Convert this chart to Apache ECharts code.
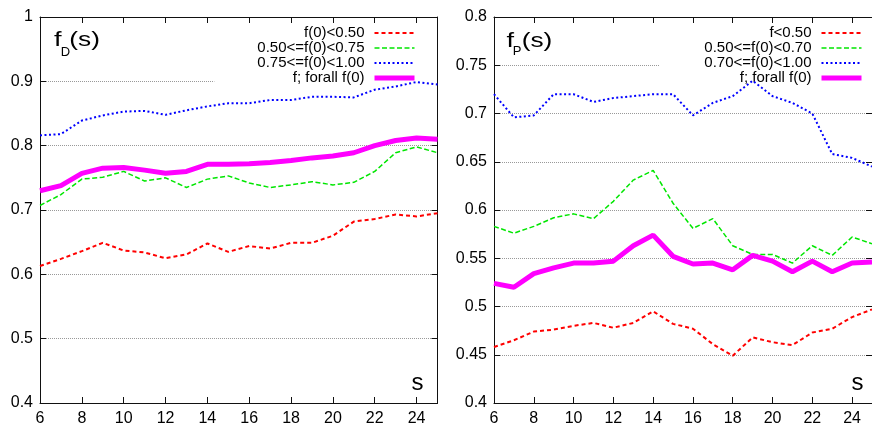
<!DOCTYPE html>
<html><head><meta charset="utf-8">
<script src="https://cdn.jsdelivr.net/npm/echarts@6/dist/echarts.min.js"></script>
<style>html,body{margin:0;padding:0;background:#fff}#c{width:872px;height:427px}</style>
</head><body><div id="c"></div>
<script>
// ---- data ----
const sValues = [6,7,8,9,10,11,12,13,14,15,16,17,18,19,20,21,22,23,24,25];
const xTickLabels = ['6','8','10','12','14','16','18','20','22','24'];

const leftNames = ['f(0)<0.50', '0.50<=f(0)<0.75', '0.75<=f(0)<1.00', 'f; forall f(0)'];
const D_low  = [0.613,0.624,0.636,0.649,0.637,0.634,0.625,0.631,0.648,0.635,0.644,0.640,0.649,0.649,0.660,0.682,0.686,0.693,0.690,0.695];
const D_mid  = [0.707,0.724,0.748,0.751,0.760,0.745,0.750,0.735,0.748,0.753,0.742,0.735,0.739,0.744,0.739,0.743,0.760,0.789,0.798,0.789];
const D_high = [0.816,0.818,0.839,0.847,0.853,0.854,0.848,0.855,0.861,0.866,0.866,0.871,0.871,0.876,0.876,0.875,0.887,0.892,0.899,0.895];
const D_all  = [0.730,0.738,0.757,0.765,0.766,0.762,0.757,0.760,0.771,0.771,0.772,0.774,0.777,0.781,0.784,0.789,0.800,0.808,0.812,0.810];

const rightNames = ['f<0.50', '0.50<=f(0)<0.70', '0.70<=f(0)<1.00', 'f; forall f(0)'];
const P_low  = [0.458,0.465,0.474,0.476,0.480,0.483,0.478,0.483,0.495,0.482,0.477,0.461,0.449,0.468,0.463,0.460,0.473,0.477,0.489,0.497];
const P_mid  = [0.583,0.576,0.583,0.592,0.596,0.591,0.609,0.631,0.641,0.607,0.581,0.591,0.563,0.554,0.554,0.545,0.563,0.553,0.572,0.565];
const P_high = [0.720,0.696,0.698,0.720,0.720,0.712,0.716,0.718,0.720,0.720,0.698,0.711,0.718,0.734,0.718,0.711,0.700,0.658,0.654,0.645];
const P_all  = [0.524,0.520,0.534,0.540,0.545,0.545,0.547,0.563,0.574,0.552,0.544,0.545,0.538,0.553,0.547,0.536,0.547,0.536,0.545,0.546];

// ---- styles ----
const FONT = 'Liberation Sans';
const AX = '#111';
const styles = [
  {color:'#ff0000', width:2,   type:[4,3]},
  {color:'#00e600', width:1.5, type:[5,2.5]},
  {color:'#0000ff', width:2,   type:[2,2.5]},
  {color:'#ff00ff', width:5,   type:'solid'}
];
const pairs = arr => sValues.map((s,i)=>[s, arr[i]]);

function mkSeries(names, arrs, xi, yi){
  return arrs.map((a,k)=>({
    type:'line', name:names[k], xAxisIndex:xi, yAxisIndex:yi,
    data:pairs(a), symbol:'none', showSymbol:false, smooth:false, z:3+k,
    lineStyle:{color:styles[k].color, width:styles[k].width, type:styles[k].type, cap:'butt'},
    itemStyle:{color:styles[k].color}, emphasis:{disabled:true}
  }));
}
function xAx(gi, top){
  return {
    type:'value', gridIndex:gi, min:6, max:25, interval:2, position: top?'top':'bottom',
    axisLine:{show:true, onZero:false, lineStyle:{color:AX, width:1}},
    axisTick:{show:true, inside:true, length:6, lineStyle:{color:AX}},
    axisLabel:{show:!top, margin:8, fontSize:16, color:'#000', fontFamily:FONT, showMaxLabel:false,
      formatter: v => xTickLabels.indexOf(String(v))>=0 ? String(v) : ''},
    splitLine:{show:false}
  };
}
function yAx(gi, right, min, max, interval){
  return {
    type:'value', gridIndex:gi, min:min, max:max, interval:interval, position: right?'right':'left',
    axisLine:{show:true, onZero:false, lineStyle:{color:AX, width:1}},
    axisTick:{show:true, inside:true, length:6, lineStyle:{color:AX}},
    axisLabel:{show:!right, margin:7, fontSize:16, color:'#000', fontFamily:FONT, showMinLabel:true, showMaxLabel:true},
    splitLine:{show:!right, lineStyle:{color:'#999', type:'dotted', width:1}}
  };
}
function mkLegend(names, rightPos, pad){
  return {
    orient:'vertical', right:rightPos, top:23.5, align:'right', z:1,
    backgroundColor:'#fff', padding:pad, itemGap:0, itemWidth:40, itemHeight:10,
    selectedMode:false,
    textStyle:{fontFamily:FONT, fontSize:15, color:'#000', lineHeight:14.4, padding:[0,5,0,0]},
    lineStyle:{width:'inherit'},
    itemStyle:{color:'rgba(0,0,0,0)', borderColor:'rgba(0,0,0,0)', borderWidth:0, opacity:0},
    data:names.map(n=>({name:n}))
  };
}
function txt(x, y, text, size, sx){
  return {type:'text', x:x, y:y, scaleX:sx||1, z:10,
    style:{text:text, x:0, y:0, fontFamily:FONT, fontSize:size, fill:'#000', align:'left', verticalAlign:'middle'}};
}

const option = {
  animation:false,
  backgroundColor:'#fff',
  textStyle:{fontFamily:FONT},
  grid:[
    {left:40, top:17, width:397.5, height:390},
    {left:494, top:17, width:389.5, height:390}
  ],
  xAxis:[xAx(0,false), xAx(0,true), xAx(1,false), xAx(1,true)],
  yAxis:[yAx(0,false,0.4,1,0.1), yAx(0,true,0.4,1,0.1), yAx(1,false,0.4,0.8,0.05), yAx(1,true,0.4,0.8,0.05)],
  legend:[
    mkLegend(leftNames, 435, [2,20,2,43]),
    mkLegend(rightNames, 0, [2,8,2,45])
  ],
  graphic:[
    txt(54, 40.5, 'f', 21, 1.3),
    txt(60.7, 52, 'D', 13),
    txt(69.3, 40.5, '(s)', 21, 1.25),
    txt(506.5, 41, 'f', 21, 1.3),
    txt(512.7, 51.5, 'P', 13),
    txt(521.7, 41, '(s)', 21, 1.25),
    txt(411.5, 383, 's', 24),
    txt(851.5, 383, 's', 24)
  ],
  series:[].concat(
    mkSeries(leftNames, [D_low, D_mid, D_high, D_all], 0, 0),
    mkSeries(rightNames, [P_low, P_mid, P_high, P_all], 2, 2)
  )
};
const chart = echarts.init(document.getElementById('c'));
chart.setOption(option);
</script></body></html>
